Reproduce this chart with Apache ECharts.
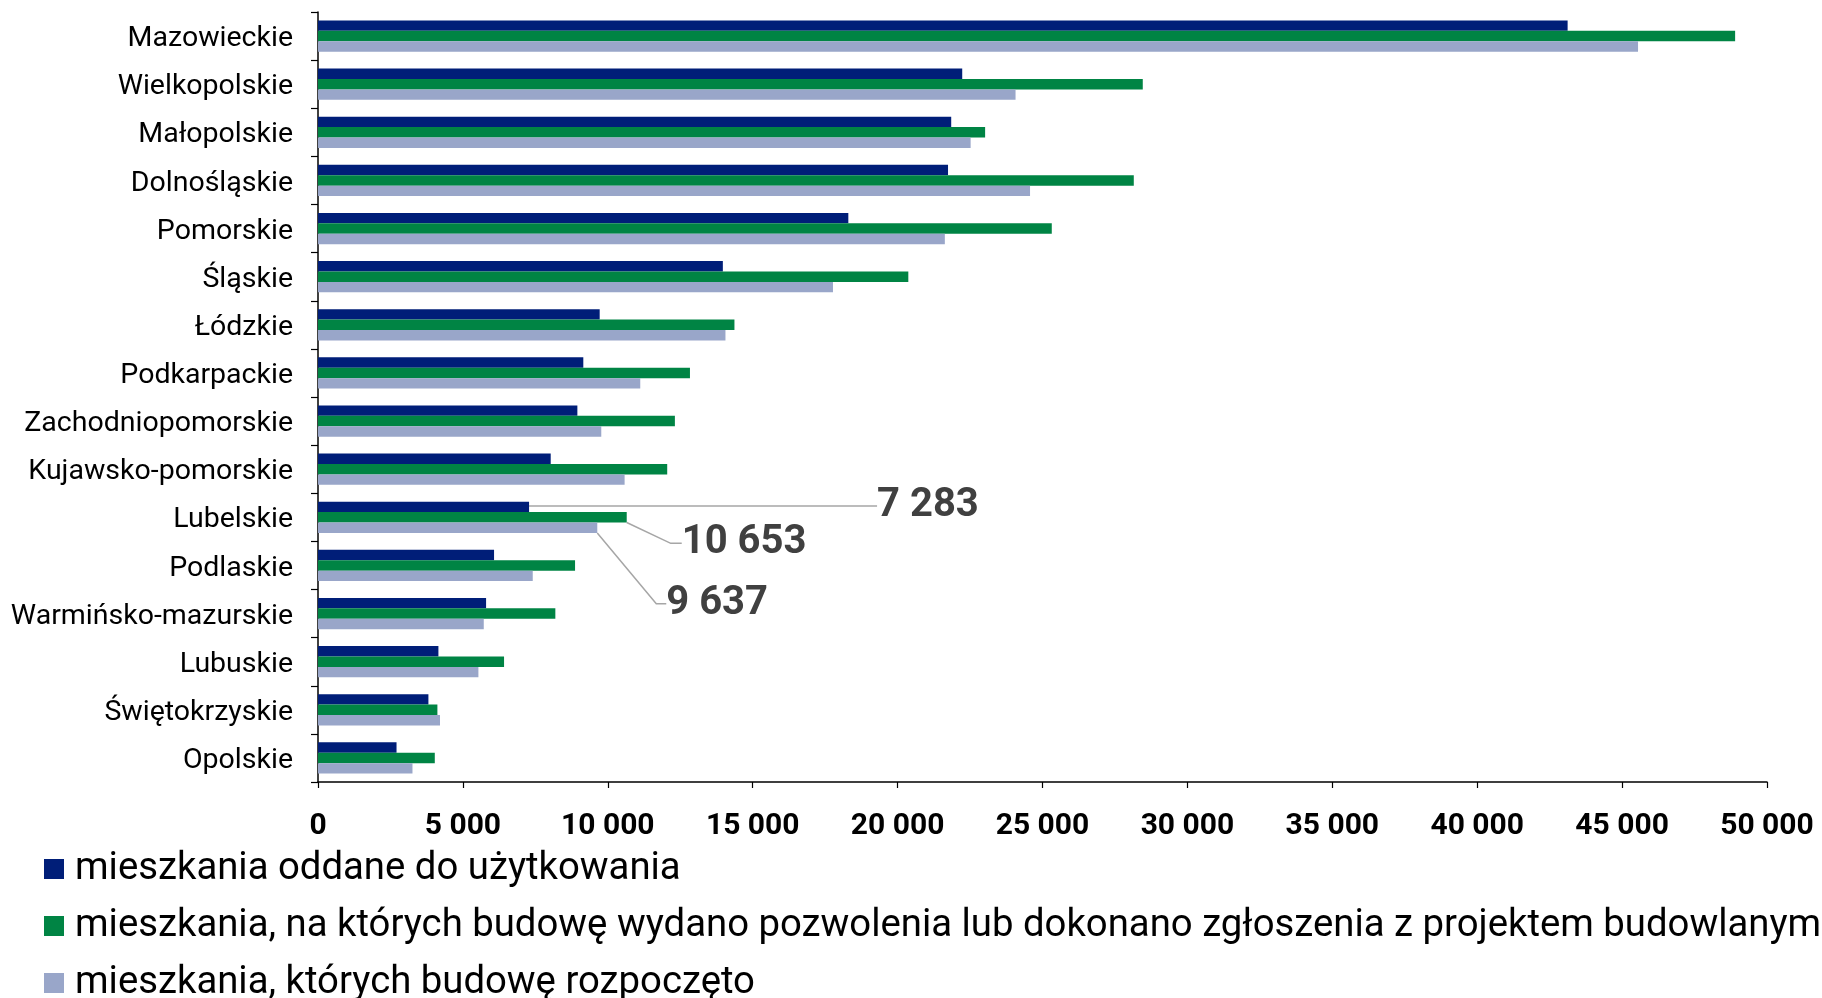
<!DOCTYPE html>
<html>
	<head>
		<meta charset="UTF-8">
		<title></title>
		<style>
			html,body{margin:0;padding:0;background:#fff}
			#chart{width:1822px;height:998px}
		</style>
	</head>
	<body>
		<div id="chart"></div>
		<script src="https://cdn.jsdelivr.net/npm/echarts@6/dist/echarts.min.js"></script>
<script>
// województwa, od góry
var regions = ['Mazowieckie','Wielkopolskie','Małopolskie','Dolnośląskie','Pomorskie','Śląskie','Łódzkie',
	'Podkarpackie','Zachodniopomorskie','Kujawsko-pomorskie','Lubelskie','Podlaskie','Warmińsko-mazurskie',
	'Lubuskie','Świętokrzyskie','Opolskie'];

var seriesNames = [
	'mieszkania oddane do użytkowania',
	'mieszkania, na których budowę wydano pozwolenia lub dokonano zgłoszenia z projektem budowlanym',
	'mieszkania, których budowę rozpoczęto'
];

var oddane = [43120, 22230, 21850, 21740, 18300, 13970, 9720, 9155, 8950, 8030, 7283, 6075, 5800, 4155, 3810, 2710];
var pozwolenia = [48900, 28460, 23020, 28150, 25320, 20370, 14370, 12835, 12315, 12050, 10653, 8870, 8190, 6420, 4120, 4030];
var rozpoczete = [45550, 24070, 22520, 24570, 21630, 17770, 14060, 11120, 9775, 10580, 9637, 7410, 5720, 5535, 4210, 3260];

var xTicks = [0, 5000, 10000, 15000, 20000, 25000, 30000, 35000, 40000, 45000, 50000];

// region z opisanymi wartościami
var calloutRegion = 'Lubelskie';

var colors = ['#001e78', '#008444', '#99a6c9'];

function fmt(v) {
	return String(v).replace(/\B(?=(\d{3})+(?!\d))/g, ' ');
}

// przesunięcia etykiet (dx, dy, length2)
var callouts = [
	{dx: 343, dy: -1, len: 0},
	{dx: 50, dy: 26, len: 11},
	{dx: 64, dy: 76, len: 10}
];

function makeData(values, s) {
	var idx = regions.indexOf(calloutRegion);
	return values.map(function(v, i) {
		if (i !== idx) return v;
		return {
			value: v,
			label: {
				show: true,
				position: 'right',
				distance: 5,
				formatter: function(p) { return fmt(p.value); },
				fontFamily: 'Roboto',
				fontWeight: 'bold',
				fontSize: 40,
				color: '#404040'
			},
			labelLine: {
				show: true,
				length2: callouts[s].len,
				lineStyle: {color: '#a6a6a6', width: 1.5}
			}
		};
	});
}

var chart = echarts.init(document.getElementById('chart'));
var allValues = [oddane, pozwolenia, rozpoczete];

var option = {
	animation: false,
	backgroundColor: '#fff',
	textStyle: {fontFamily: 'Roboto'},
	grid: {
		left: 318,
		right: 55,
		top: 12,
		bottom: 216
	},
	legend: {
		orient: 'vertical',
		left: 44,
		top: 850,
		height: 200,
		padding: 0,
		icon: 'rect',
		itemWidth: 20,
		itemHeight: 20,
		itemGap: 19,
		data: seriesNames,
		formatter: function(name) { return '{t|' + name + '}'; },
		textStyle: {
			rich: {
				t: {
					fontFamily: 'Roboto',
					fontSize: 38.3,
					lineHeight: 34,
					color: '#000',
					padding: [0, 0, 0, 6]
				}
			}
		}
	},
	xAxis: {
		type: 'value',
		min: xTicks[0],
		max: xTicks[xTicks.length - 1],
		interval: xTicks[1] - xTicks[0],
		splitLine: {show: false},
		axisLine: {show: true, lineStyle: {color: '#000', width: 1.5}},
		axisTick: {show: true, length: 6, lineStyle: {color: '#000', width: 1.2}},
		axisLabel: {
			margin: 29,
			fontFamily: 'Roboto',
			fontWeight: 'bold',
			fontSize: 30,
			color: '#000',
			formatter: fmt
		}
	},
	yAxis: {
		type: 'category',
		inverse: true,
		data: regions,
		axisLine: {show: true, lineStyle: {color: '#000', width: 1.5}},
		axisTick: {show: true, length: 7, lineStyle: {color: '#000', width: 1.2}},
		axisLabel: {
			margin: 25,
			formatter: function(v) { return '{r|' + v + '}'; },
			rich: {
				r: {
					fontFamily: 'Roboto',
					fontSize: 28.5,
					color: '#000',
					padding: [6, 0, 0, 0]
				}
			}
		}
	},
	series: seriesNames.map(function(name, s) {
		return {
			name: name,
			type: 'bar',
			barGap: '0%',
			barCategoryGap: '35%',
			itemStyle: {color: colors[s]},
			data: makeData(allValues[s], s),
			labelLayout: {dx: callouts[s].dx, dy: callouts[s].dy}
		};
	})
};

chart.setOption(option);
window.addEventListener('resize', chart.resize);
</script>
	</body>
</html>
